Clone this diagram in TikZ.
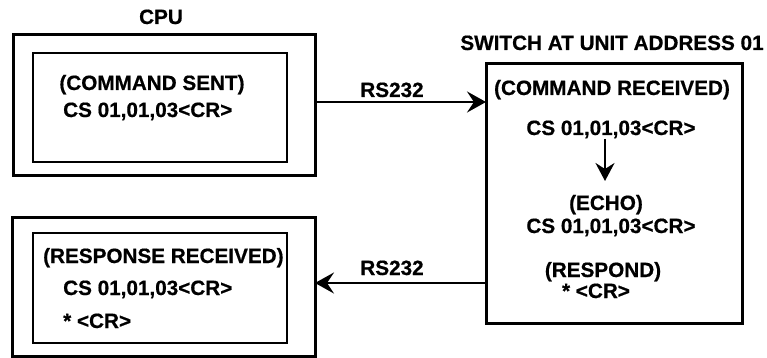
\documentclass[tikz,border=0pt]{standalone}
\usepackage{fontspec}
\setmainfont{Liberation Sans}[BoldFeatures={FakeBold=0.6}]
\usetikzlibrary{arrows.meta}
\begin{document}
\begin{tikzpicture}[x=1pt,y=-1pt,
  box/.style={draw,line width=3pt},
  ibox/.style={draw,line width=2.8pt},
  lbl/.style={inner sep=0pt,font=\fontsize{20.7}{24}\selectfont\bfseries},
  arr/.style={line width=2.8pt,-{Stealth[length=19pt,width=21pt,inset=7pt]}},
  darr/.style={line width=2.3pt,-{Stealth[length=18pt,width=19pt,inset=6pt]}}]
\useasboundingbox (0,0) rectangle (767,358);
% boxes
\draw[box] (13,35) rectangle (315,175);
\draw[ibox] (33,53) rectangle (287,162);
\draw[box] (12,217) rectangle (315,356);
\draw[ibox] (33,233) rectangle (287,343);
\draw[box] (486,64) rectangle (742,323);
\coordinate (cpuE) at (315,102);
\coordinate (swW1) at (486,102);
\coordinate (swW2) at (486,283);
\coordinate (resE) at (315,283);
% texts
\node[lbl,anchor=base] (cpu) at (161,24) {CPU};
\node[lbl,anchor=base] (cmdsent) at (152,90) {(COMMAND SENT)};
\node[lbl,anchor=base west] (cs1) at (63,117) {CS 01,01,03<CR>};
\node[lbl,anchor=base west] (resrec) at (43,263) {(RESPONSE RECEIVED)};
\node[lbl,anchor=base west] (cs2) at (63,295) {CS 01,01,03<CR>};
\node[lbl,anchor=base west] (cr2) at (63,328) {* <CR>};
\node[lbl,anchor=base] (sw) at (612,50) {SWITCH AT UNIT ADDRESS 01};
\node[lbl,anchor=base] (cmdrec) at (612,95) {(COMMAND RECEIVED)};
\node[lbl,anchor=base] (cs3) at (611,135) {CS 01,01,03<CR>};
\node[lbl,anchor=base] (echo) at (606,210) {(ECHO)};
\node[lbl,anchor=base] (cs4) at (611,233) {CS 01,01,03<CR>};
\node[lbl,anchor=base] (resp) at (603,277) {(RESPOND)};
\node[lbl,anchor=base] (cr4) at (596,298) {* <CR>};
\node[lbl,anchor=base] (rs1) at (392,97) {RS232};
\node[lbl,anchor=base] (rs2) at (392,275) {RS232};
\coordinate (dtop) at (605,139);
\coordinate (dbot) at (605,181);
% connectors
\draw[arr] (cpuE) -- (swW1);
\draw[arr] (swW2) -- (resE);
\draw[darr] (dtop) -- (dbot);
\end{tikzpicture}
\end{document}
